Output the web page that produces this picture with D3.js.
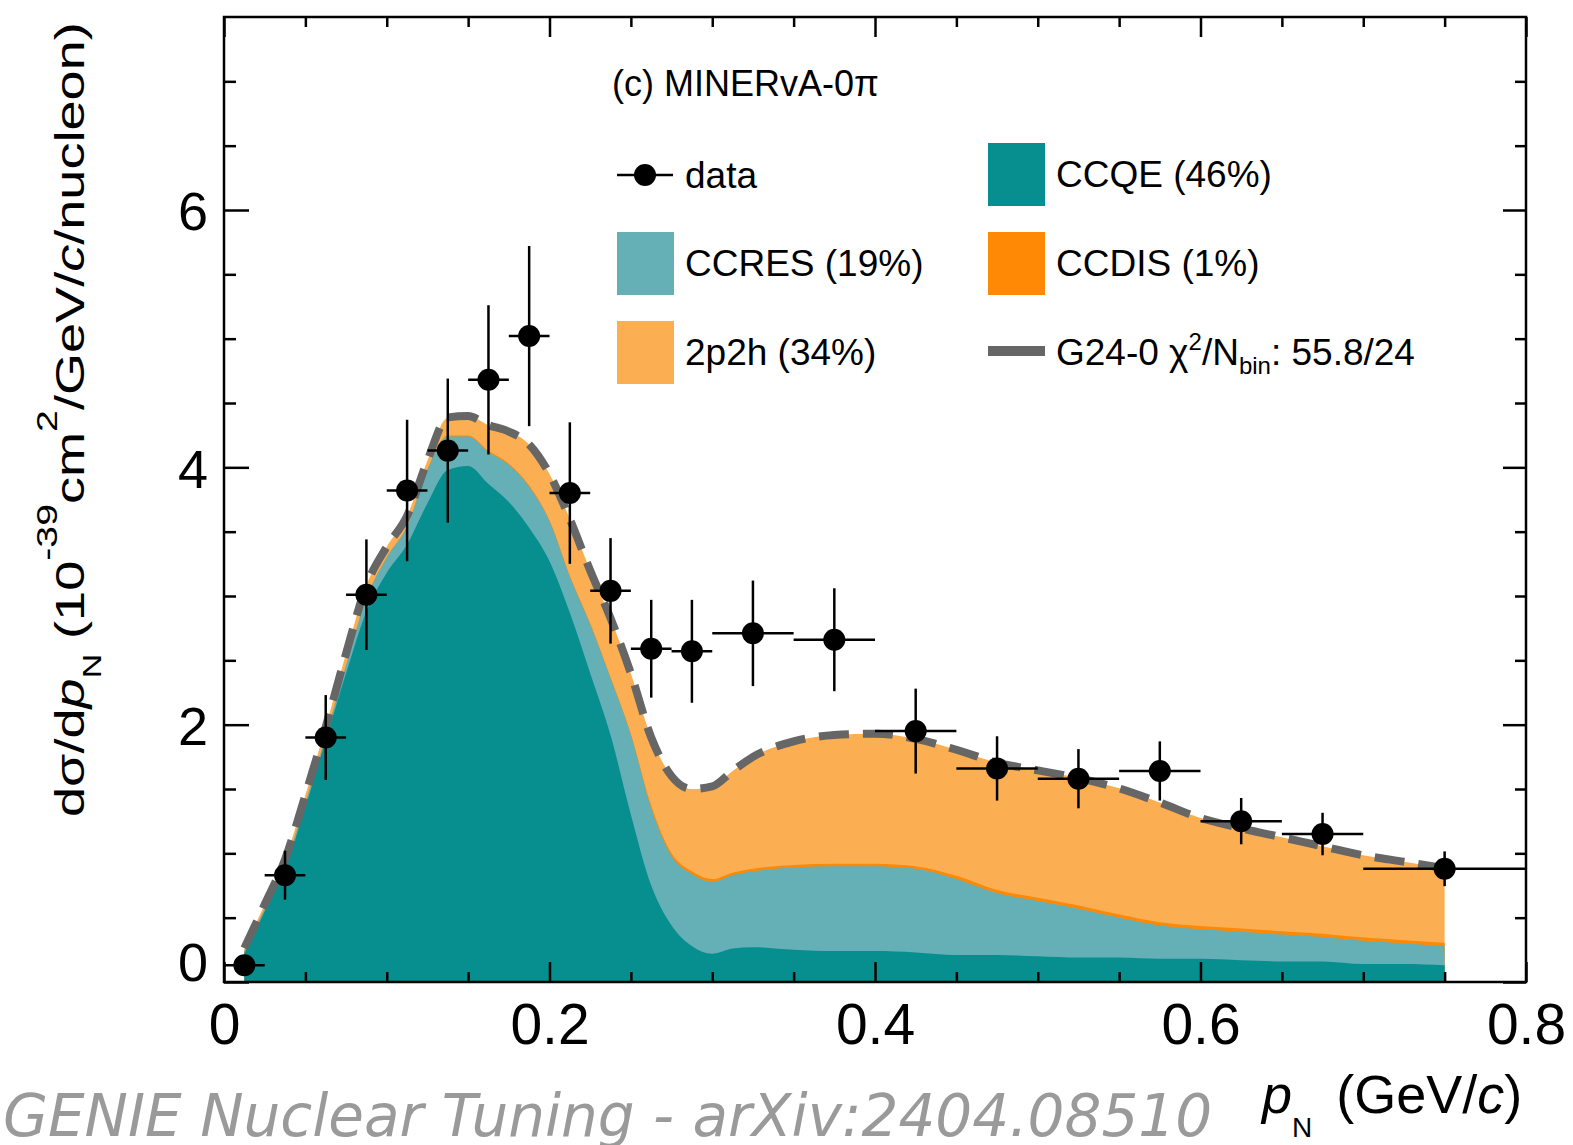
<!DOCTYPE html>
<html>
<head>
<meta charset="utf-8">
<script src="https://cdn.jsdelivr.net/npm/d3@7"></script>
<style>
  body { margin: 0; background: #fff; }
  svg text { font-family: "Liberation Sans", Arial, Helvetica, sans-serif; }
</style>
</head>
<body>
<svg id="chart" width="1573" height="1145"></svg>
<script>
// bins of the MINERvA-0pi measurement (GeV/c)
const binEdges = [0, 0.025, 0.05, 0.075, 0.1, 0.125, 0.15, 0.175, 0.2, 0.225, 0.25, 0.275, 0.3,
    0.35, 0.4, 0.45, 0.5, 0.55, 0.6, 0.65, 0.7, 0.8];
const dataY = [0.13, 0.83, 1.90, 3.01, 3.82, 4.13, 4.68, 5.02, 3.80, 3.04, 2.59, 2.57,
    2.71, 2.66, 1.95, 1.66, 1.58, 1.64, 1.25, 1.15, 0.88];
const dataErr = [0.05, 0.19, 0.33, 0.43, 0.55, 0.56, 0.58, 0.70, 0.55, 0.41, 0.38, 0.40,
    0.41, 0.40, 0.33, 0.25, 0.23, 0.23, 0.18, 0.165, 0.135];

// GENIE prediction, split by channel
const modelX = [0.0125, 0.025, 0.0375, 0.05, 0.0625, 0.075, 0.0875, 0.1, 0.1125, 0.125, 0.1375, 0.15,
    0.1625, 0.175, 0.1875, 0.2, 0.2125, 0.225, 0.2375, 0.25, 0.2625, 0.275, 0.2875, 0.3, 0.3125, 0.325,
    0.35, 0.375, 0.4, 0.425, 0.45, 0.475, 0.5, 0.525, 0.55, 0.575, 0.6, 0.625, 0.65, 0.675, 0.7, 0.725, 0.75];
const ccqe = [0.22, 0.55, 0.88, 1.36, 1.88, 2.40, 2.88, 3.18, 3.40, 3.72, 3.98, 4.01,
    3.87, 3.73, 3.53, 3.27, 2.87, 2.40, 1.92, 1.30, 0.75, 0.44, 0.28, 0.22, 0.26, 0.27,
    0.25, 0.24, 0.24, 0.23, 0.21, 0.21, 0.20, 0.19, 0.19, 0.18, 0.18, 0.17, 0.16, 0.16, 0.14, 0.14, 0.13];
const ccres = [0.02, 0.02, 0.03, 0.03, 0.03, 0.06, 0.10, 0.12, 0.14, 0.26, 0.26, 0.23,
    0.25, 0.29, 0.32, 0.31, 0.28, 0.38, 0.44, 0.62, 0.60, 0.54, 0.56, 0.56, 0.57, 0.59,
    0.64, 0.66, 0.66, 0.65, 0.59, 0.48, 0.43, 0.38, 0.31, 0.26, 0.23, 0.22, 0.21, 0.19, 0.18, 0.16, 0.15];
const ccdis = [0.003, 0.003, 0.003, 0.003, 0.003, 0.003, 0.003, 0.003, 0.003, 0.003, 0.008, 0.008,
    0.008, 0.008, 0.008, 0.008, 0.008, 0.008, 0.008, 0.008, 0.02, 0.02, 0.02, 0.02, 0.02, 0.02,
    0.02, 0.02, 0.02, 0.02, 0.025, 0.025, 0.025, 0.025, 0.025, 0.025, 0.025, 0.025, 0.025, 0.025, 0.025, 0.025, 0.025];
const twoP2h = [0.02, 0.03, 0.04, 0.06, 0.07, 0.09, 0.10, 0.08, 0.08, 0.07, 0.14, 0.15,
    0.20, 0.25, 0.32, 0.36, 0.44, 0.41, 0.46, 0.47, 0.53, 0.60, 0.64, 0.72, 0.79, 0.87,
    0.96, 1.00, 1.01, 0.99, 0.98, 0.99, 0.99, 0.99, 0.98, 0.93, 0.84, 0.78, 0.73, 0.68, 0.64, 0.61, 0.58];

const xMajorTicks = [0, 0.2, 0.4, 0.6, 0.8];
const xMinorTicks = [0.05, 0.1, 0.15, 0.25, 0.3, 0.35, 0.45, 0.5, 0.55, 0.65, 0.7, 0.75];
const yMajorTicks = [0, 2, 4, 6];
const yMinorTicks = [0.5, 1, 1.5, 2.5, 3, 3.5, 4.5, 5, 5.5, 6.5, 7];

const keys = ["ccqe", "ccres", "ccdis", "twoP2h"];
const colors = { ccqe: "#078f8f", ccres: "#65afb7", ccdis: "#ff8805", twoP2h: "#fcaf52" };

const svg = d3.select("#chart");
const x = d3.scaleLinear().domain([0, 0.8]).range([224, 1526]);
const y = d3.scaleLinear().domain([0, 7.5]).range([982, 17]);

svg.append("defs").append("clipPath").attr("id", "clip")
    .append("rect")
    .attr("x", x(0)).attr("y", y(7.5))
    .attr("width", x(0.8) - x(0)).attr("height", y(0) - y(7.5));

// stacked prediction
const rows = modelX.map((px, i) => ({ x: px, ccqe: ccqe[i], ccres: ccres[i], ccdis: ccdis[i], twoP2h: twoP2h[i] }));
const series = d3.stack().keys(keys)(rows);

const plot = svg.append("g").attr("clip-path", "url(#clip)");

// each layer filled from zero up to its cumulative top, top layer first (no seams)
const area = d3.area()
    .x(d => x(d.data.x))
    .y0(y(0))
    .y1(d => y(d[1]))
    .curve(d3.curveMonotoneX);

plot.selectAll(".layer")
    .data(series.slice().reverse())
    .enter().append("path")
    .attr("class", "layer")
    .attr("fill", d => colors[d.key])
    .attr("d", area);

// total prediction, dashed
const totalLine = d3.line()
    .x(d => x(d.data.x))
    .y(d => y(d[1]))
    .curve(d3.curveMonotoneX);

plot.append("path")
    .datum(series[series.length - 1])
    .attr("fill", "none")
    .attr("stroke", "#666666")
    .attr("stroke-width", 8)
    .attr("stroke-dasharray", "30,14")
    .attr("d", totalLine);

// axes: ticks point inwards on all four sides
function styleAxis(sel) {
    sel.select(".domain").remove();
    sel.selectAll("line").attr("stroke", "#000").attr("stroke-width", 2.5);
    sel.attr("font-family", null).attr("font-size", null);
}

svg.append("g").attr("transform", `translate(0,${y(0)})`)
    .call(d3.axisBottom(x).tickValues(xMinorTicks).tickSize(-10).tickFormat(""))
    .call(styleAxis);
svg.append("g").attr("transform", `translate(0,${y(7.5)})`)
    .call(d3.axisTop(x).tickValues(xMinorTicks).tickSize(-10).tickFormat(""))
    .call(styleAxis);
svg.append("g").attr("transform", `translate(0,${y(7.5)})`)
    .call(d3.axisTop(x).tickValues(xMajorTicks).tickSize(-20).tickFormat(""))
    .call(styleAxis);
svg.append("g").attr("transform", `translate(0,${y(0)})`)
    .call(d3.axisBottom(x).tickValues(xMajorTicks).tickSize(-20).tickPadding(22).tickFormat(d3.format("")))
    .call(styleAxis)
    .selectAll("text")
    .attr("font-size", 57)
    .attr("fill", "#000");

svg.append("g").attr("transform", `translate(${x(0)},0)`)
    .call(d3.axisLeft(y).tickValues(yMinorTicks).tickSize(-12).tickFormat(""))
    .call(styleAxis);
svg.append("g").attr("transform", `translate(${x(0.8)},0)`)
    .call(d3.axisRight(y).tickValues(yMinorTicks).tickSize(-11).tickFormat(""))
    .call(styleAxis);
svg.append("g").attr("transform", `translate(${x(0.8)},0)`)
    .call(d3.axisRight(y).tickValues(yMajorTicks).tickSize(-23).tickFormat(""))
    .call(styleAxis);
svg.append("g").attr("transform", `translate(${x(0)},0)`)
    .call(d3.axisLeft(y).tickValues(yMajorTicks).tickSize(-25).tickPadding(16).tickFormat(d3.format("")))
    .call(styleAxis)
    .selectAll("text")
    .attr("font-size", 54)
    .attr("fill", "#000")
    .attr("dy", d => d === 0 ? "-0.02em" : "0.37em");

svg.append("rect")
    .attr("x", x(0)).attr("y", y(7.5))
    .attr("width", x(0.8) - x(0)).attr("height", y(0) - y(7.5))
    .attr("fill", "none").attr("stroke", "#000").attr("stroke-width", 2.5);

// data points with error bars
const points = dataY.map((v, i) => ({ lo: binEdges[i], hi: binEdges[i + 1], v, e: dataErr[i] }));
const pts = svg.append("g").attr("clip-path", "url(#clip)");
pts.selectAll(".xerr").data(points).enter().append("line")
    .attr("x1", d => x(d.lo)).attr("x2", d => x(d.hi))
    .attr("y1", d => y(d.v)).attr("y2", d => y(d.v))
    .attr("stroke", "#000").attr("stroke-width", 2.5);
pts.selectAll(".yerr").data(points).enter().append("line")
    .attr("x1", d => x((d.lo + d.hi) / 2)).attr("x2", d => x((d.lo + d.hi) / 2))
    .attr("y1", d => y(d.v - d.e)).attr("y2", d => y(d.v + d.e))
    .attr("stroke", "#000").attr("stroke-width", 2.5);
pts.selectAll("circle").data(points).enter().append("circle")
    .attr("cx", d => x((d.lo + d.hi) / 2)).attr("cy", d => y(d.v))
    .attr("r", 11).attr("fill", "#000");

// legend
const legend = svg.append("g");
legend.append("text").attr("x", 612).attr("y", 96).attr("font-size", 36).text("(c) MINERvA-0π");

legend.append("line").attr("x1", 617).attr("x2", 673).attr("y1", 175).attr("y2", 175)
    .attr("stroke", "#000").attr("stroke-width", 2.5);
legend.append("circle").attr("cx", 645).attr("cy", 175).attr("r", 11).attr("fill", "#000");
legend.append("text").attr("x", 685).attr("y", 188).attr("font-size", 37).text("data");

const boxes = [
    { key: "ccqe", bx: 988, cy: 175, label: "CCQE (46%)" },
    { key: "ccres", bx: 617, cy: 264, label: "CCRES (19%)" },
    { key: "ccdis", bx: 988, cy: 264, label: "CCDIS (1%)" },
    { key: "twoP2h", bx: 617, cy: 353, label: "2p2h (34%)" }
];
boxes.forEach(b => {
    legend.append("rect").attr("x", b.bx).attr("y", b.cy - 32).attr("width", 57).attr("height", 63)
        .attr("fill", colors[b.key]);
    legend.append("text").attr("x", b.bx + 68).attr("y", b.cy + 12).attr("font-size", 37).text(b.label);
});

legend.append("line").attr("x1", 988).attr("x2", 1045).attr("y1", 351).attr("y2", 351)
    .attr("stroke", "#666666").attr("stroke-width", 10);
const g24 = legend.append("text").attr("x", 1056).attr("y", 365).attr("font-size", 37);
g24.append("tspan").text("G24-0 χ");
g24.append("tspan").attr("font-size", 24).attr("dy", -15).text("2");
g24.append("tspan").attr("dy", 15).text("/N");
g24.append("tspan").attr("font-size", 24).attr("dy", 9).text("bin");
g24.append("tspan").attr("dy", -9).text(": 55.8/24");

// y axis title (stretched along its length like the original)
const yTitle = svg.append("text").attr("font-size", 40).attr("fill", "#000");
yTitle.append("tspan").text("dσ/d");
yTitle.append("tspan").attr("font-style", "italic").text("p");
yTitle.append("tspan").attr("font-size", 25).attr("dy", 17).text("N");
yTitle.append("tspan").attr("dy", -17).text(" (10");
yTitle.append("tspan").attr("font-size", 29).attr("dy", -27).text("-39");
yTitle.append("tspan").attr("dy", 27).text("cm");
yTitle.append("tspan").attr("font-size", 29).attr("dy", -27).text("2");
yTitle.append("tspan").attr("dy", 27).text("/GeV/");
yTitle.append("tspan").attr("font-style", "italic").text("c");
yTitle.append("tspan").text("/nucleon)");
const yTitleLen = yTitle.node().getComputedTextLength();
yTitle.attr("transform", `translate(84,817) rotate(-90) scale(${795 / yTitleLen},1)`);

// x axis title
const xTitle = svg.append("text").attr("x", 1262).attr("y", 1113).attr("font-size", 54).attr("fill", "#000");
xTitle.append("tspan").attr("font-style", "italic").text("p");
xTitle.append("tspan").attr("font-size", 28).attr("dy", 24).text("N");
xTitle.append("tspan").attr("dy", -24).attr("dx", 24).text("(GeV/");
xTitle.append("tspan").attr("font-style", "italic").text("c");
xTitle.append("tspan").text(")");

// watermark
svg.append("text")
    .attr("x", 3).attr("y", 1136)
    .attr("font-size", 58)
    .attr("font-style", "italic")
    .style("font-family", "'DejaVu Sans', sans-serif")
    .attr("fill", "#9a9a9a")
    .text("GENIE Nuclear Tuning - arXiv:2404.08510");
</script>
</body>
</html>
